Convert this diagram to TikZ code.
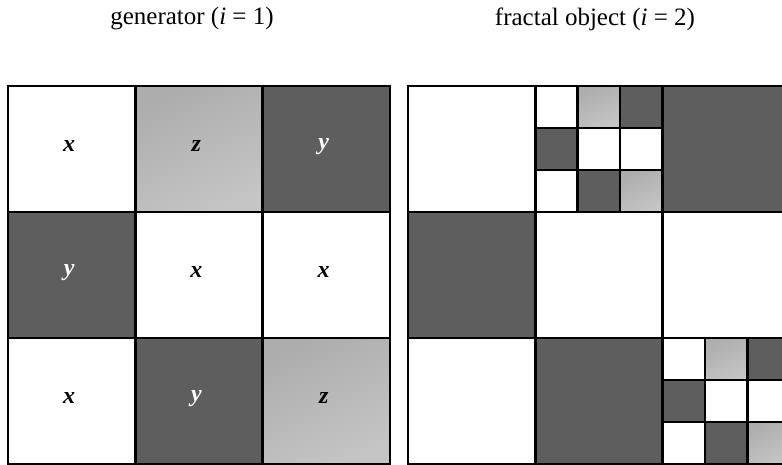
\documentclass[tikz,border=0pt]{standalone}
\usepackage{fontspec}
\setmainfont{Liberation Serif}
\definecolor{darkcell}{HTML}{5E5E5E}
\definecolor{lightcell}{HTML}{B6B6B6}
\begin{document}
\begin{tikzpicture}[x=1pt,y=-1pt,
  cellx/.style={fill=white},
  celly/.style={fill=darkcell},
  cellz/.style={top color=lightcell!95!black,bottom color=lightcell!80!white,shading angle=25},
  inner line/.style={draw=black,line width=2.6pt},
  outer line/.style={draw=black,line width=1.5pt},
  lbl/.style={font=\fontsize{24}{24}\selectfont\bfseries\itshape,inner sep=0pt},
  lblx/.style={lbl,text=black},
  lbly/.style={lbl,text=white},
  lblz/.style={lbl,text=black},
  title/.style={font=\fontsize{25}{25}\selectfont,inner sep=0pt}]
\useasboundingbox (0,0) rectangle (782,465);
\clip (0,0) rectangle (782,465);
\fill[white] (0,0) rectangle (782,465);

% cell pattern of the generator: column/row/type
\def\genpattern{0/0/x,1/0/z,2/0/y,0/1/y,1/1/x,2/1/x,0/2/x,1/2/y,2/2/z}
\def\cw{127.3}
\def\ch{126}

% titles
\node[title] (t1) at (192,19) {generator (\textit{i} = 1)};
\node[title] (t2) at (595,19) {fractal object (\textit{i} = 2)};

% ---- generator (i = 1) ----
\foreach \c/\r/\t in \genpattern {
  \path[cell\t] (8+\c*\cw,86+\r*\ch) rectangle ++(\cw,\ch);
  \node[lbl\t] (g-\c-\r) at (8+\c*\cw+0.48*\cw,86+\r*\ch+0.48*\ch) {\t};
}
\foreach \k in {1,2} {
  \draw[inner line] (8+\k*\cw,86) -- (8+\k*\cw,86+3*\ch);
  \draw[inner line] (8,86+\k*\ch) -- (8+3*\cw,86+\k*\ch);
}
\draw[outer line] (8,86) rectangle ++(3*\cw,3*\ch);

% ---- fractal object (i = 2) ----
\foreach \c/\r/\t in \genpattern {
  \path[cell\t] (408+\c*\cw,86+\r*\ch) rectangle ++(\cw,\ch);
}
% z cells are replaced by a scaled copy of the generator
\foreach \zc/\zr in {1/0,2/2} {
  \foreach \c/\r/\t in \genpattern {
    \path[cell\t] (408+\zc*\cw+\c*\cw/3,86+\zr*\ch+\r*\ch/3) rectangle ++(\cw/3,\ch/3);
  }
  \foreach \k in {1,2} {
    \draw[inner line] (408+\zc*\cw+\k*\cw/3,86+\zr*\ch) -- ++(0,\ch);
    \draw[inner line] (408+\zc*\cw,86+\zr*\ch+\k*\ch/3) -- ++(\cw,0);
  }
}
\foreach \k in {1,2} {
  \draw[inner line] (408+\k*\cw,86) -- (408+\k*\cw,86+3*\ch);
  \draw[inner line] (408,86+\k*\ch) -- (408+3*\cw,86+\k*\ch);
}
\draw[outer line] (408,86) rectangle ++(3*\cw,3*\ch);
\end{tikzpicture}
\end{document}
